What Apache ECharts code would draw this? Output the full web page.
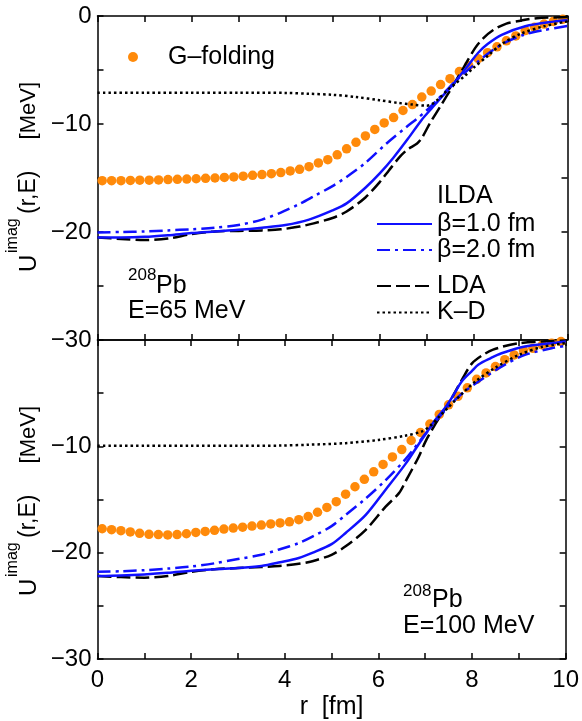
<!DOCTYPE html>
<html><head><meta charset="utf-8">
<script src="https://cdn.jsdelivr.net/npm/echarts@6/dist/echarts.min.js"></script>
<style>html,body{margin:0;padding:0;background:#fff}#c{width:582px;height:721px}</style>
</head><body><div id="c"></div><script>
// ---------- data ----------
const xTicks = [0, 2, 4, 6, 8, 10];
const yTicks = [0, -10, -20, -30];

const rDots = [0.1,0.3,0.5,0.7,0.9,1.1,1.3,1.5,1.7,1.9,2.1,2.3,2.5,2.7,2.9,3.1,3.3,3.5,3.7,3.9,
  4.1,4.3,4.5,4.7,4.9,5.1,5.3,5.5,5.7,5.9,6.1,6.3,6.5,6.7,6.9,7.1,7.3,7.5,7.7,7.9,
  8.1,8.3,8.5,8.7,8.9,9.1,9.3,9.5,9.7,9.9];

// E = 65 MeV (top)
const topG = [-15.25,-15.25,-15.25,-15.22,-15.2,-15.2,-15.18,-15.15,-15.12,-15.1,-15.07,-15.03,-15.0,-14.95,-14.9,-14.83,-14.75,-14.68,-14.6,-14.5,
  -14.35,-14.2,-13.95,-13.6,-13.3,-12.85,-12.3,-11.7,-11.1,-10.5,-9.9,-9.4,-8.75,-8.2,-7.5,-6.95,-6.35,-5.8,-5.15,-4.6,
  -3.95,-3.4,-2.85,-2.3,-1.85,-1.35,-1.05,-0.75,-0.5,-0.3];
const topB1r = [0,0.5,1,1.5,2,2.5,3,3.5,4,4.5,5,5.3,5.7,6.0,6.3,6.6,6.9,7.1,7.3,7.5,7.7,7.9,8.1,8.3,8.6,9.1,9.7,10];
const topB1v = [-20.5,-20.5,-20.45,-20.3,-20.1,-19.95,-19.8,-19.6,-19.35,-18.85,-18.0,-17.35,-15.9,-14.6,-13.1,-11.4,-9.6,-8.6,-7.6,-6.65,-5.6,-4.5,-3.4,-2.6,-1.75,-0.95,-0.52,-0.4];
const topB2r = [0,0.5,1,1.5,2,2.5,3,3.5,3.9,4.3,4.6,5.0,5.3,5.7,6.15,6.58,6.8,7.0,7.2,7.4,7.6,7.8,8.1,8.4,8.7,9.1,9.5,10];
const topB2v = [-20.05,-20.0,-19.95,-19.85,-19.75,-19.6,-19.35,-18.85,-18.2,-17.4,-16.7,-15.75,-14.9,-13.6,-11.8,-10.25,-9.5,-8.75,-7.9,-7.0,-6.1,-5.3,-4.2,-3.2,-2.4,-1.7,-1.3,-0.93];
const topLDAr = [0,0.5,1,1.5,2,2.5,3,3.5,3.9,4.3,4.6,5.0,5.3,5.7,6.0,6.2,6.44,6.6,6.8,6.9,7.07,7.29,7.57,7.78,8.03,8.2,8.42,8.7,9.0,9.35,10];
const topLDAv = [-20.5,-20.65,-20.75,-20.6,-20.2,-19.95,-19.9,-19.85,-19.75,-19.5,-19.2,-18.7,-18.1,-16.8,-15.4,-14.3,-13.0,-12.35,-11.8,-11.3,-9.95,-8.4,-6.4,-4.85,-3.0,-2.1,-1.3,-0.7,-0.43,-0.2,-0.1];
const topKDr = [0,1,2,3,4,4.5,5,5.5,6,6.4,6.7,7.0,7.1,7.25,7.45,7.6,7.8,8.0,8.3,8.6,9.0,9.5,10];
const topKDv = [-7.1,-7.1,-7.1,-7.1,-7.12,-7.2,-7.3,-7.5,-7.8,-8.05,-8.2,-8.3,-8.2,-7.7,-6.85,-6.3,-5.6,-4.8,-3.7,-2.6,-1.65,-0.95,-0.5];

// E = 100 MeV (bottom)
const botG = [-17.75,-17.84,-17.93,-18.05,-18.18,-18.27,-18.3,-18.33,-18.3,-18.22,-18.1,-18.0,-17.9,-17.78,-17.69,-17.6,-17.5,-17.4,-17.3,-17.2,
  -17.1,-16.9,-16.6,-16.2,-15.75,-15.2,-14.5,-13.8,-13.1,-12.4,-11.7,-11.0,-10.3,-9.45,-8.7,-7.9,-7.0,-6.1,-5.3,-4.5,
  -3.7,-3.1,-2.5,-1.85,-1.4,-1.0,-0.78,-0.47,-0.3,-0.15];
const botB1r = [0,0.5,1,1.5,2,2.5,3,3.5,3.9,4.3,4.6,5.0,5.3,5.73,6.15,6.58,6.86,7.07,7.2,7.43,7.6,7.78,8.0,8.14,8.4,8.63,9.13,9.7,10];
const botB1v = [-22.2,-22.15,-22.05,-21.9,-21.7,-21.55,-21.45,-21.25,-20.9,-20.5,-20.0,-19.2,-18.15,-16.45,-14.1,-11.65,-9.8,-8.45,-7.6,-6.35,-5.2,-3.9,-2.9,-2.3,-1.7,-1.25,-0.62,-0.3,-0.15];
const botB2r = [0,0.5,1,1.5,2,2.5,3,3.5,3.88,4.3,4.59,5.0,5.3,5.73,6.15,6.58,7.0,7.29,7.57,7.85,8.14,8.63,9.13,9.7,10];
const botB2v = [-21.8,-21.75,-21.65,-21.5,-21.3,-21.0,-20.6,-20.2,-19.7,-19.1,-18.5,-17.5,-16.45,-14.9,-13.2,-11.2,-8.85,-7.3,-5.9,-4.8,-3.9,-2.5,-1.4,-0.78,-0.55];
const botLDAr = [0,0.5,1,1.5,2,2.5,3,3.5,3.88,4.3,4.59,5.0,5.3,5.73,6.15,6.44,6.58,6.86,7.0,7.15,7.3,7.45,7.6,7.8,8.0,8.2,8.45,9.0,10];
const botLDAv = [-22.2,-22.3,-22.35,-22.2,-21.8,-21.55,-21.45,-21.35,-21.25,-21.05,-20.8,-20.2,-19.4,-17.85,-15.7,-14.4,-13.3,-11.0,-9.6,-8.4,-7.3,-6.3,-5.2,-3.6,-2.2,-1.5,-0.9,-0.3,-0.05];
const botKDr = [0,1,2,3,3.9,4.5,5.3,6.0,6.57,6.93,7.1,7.3,7.5,7.8,8.1,8.5,9.0,9.5,10];
const botKDv = [-9.95,-9.95,-9.95,-9.95,-9.93,-9.85,-9.7,-9.4,-9.0,-8.6,-8.1,-7.2,-6.3,-5.0,-3.8,-2.6,-1.4,-0.65,-0.3];

const names = ['G\u2013folding', '\u03b2=1.0 fm', '\u03b2=2.0 fm', 'LDA', 'K\u2013D'];

// ---------- styling ----------
const FONT = 'Liberation Sans, Arial, Helvetica, sans-serif';
const BLUE = '#1010ff', ORANGE = '#ff8a0a', BLACK = '#000';
const pairs = (r, v) => r.map((x, i) => [x, v[i]]);
const minus = v => (v < 0 ? '\u2212' + Math.abs(v) : String(v));

function xAx(grid, pos, labels) {
  return {
    type: 'value', gridIndex: grid, position: pos, min: 0, max: 10, interval: 1,
    axisLine: { show: true, onZero: false, lineStyle: { color: BLACK, width: 1.5 } },
    axisTick: { show: true, inside: true, length: 6, lineStyle: { color: BLACK, width: 1.5 } },
    splitLine: { show: false },
    axisLabel: labels ? {
      show: true, margin: 9, color: BLACK, fontSize: 24, fontFamily: FONT,
      showMinLabel: true, showMaxLabel: true,
      formatter: v => (xTicks.indexOf(v) >= 0 ? String(v) : '')
    } : { show: false },
    name: labels ? 'r  [fm]' : '', nameLocation: 'middle', nameGap: 36,
    nameTextStyle: { color: BLACK, fontSize: 25, fontFamily: FONT }
  };
}
function yAx(grid, pos, labels, hideZero) {
  return {
    type: 'value', gridIndex: grid, position: pos, min: -30, max: 0, interval: 5,
    axisLine: { show: true, onZero: false, lineStyle: { color: BLACK, width: 1.5 } },
    axisTick: { show: true, inside: true, length: 6, lineStyle: { color: BLACK, width: 1.5 } },
    splitLine: { show: false },
    axisLabel: labels ? {
      show: true, margin: 6, color: BLACK, fontSize: 24, fontFamily: FONT,
      showMinLabel: true, showMaxLabel: true,
      formatter: v => (yTicks.indexOf(v) >= 0 && !(hideZero && v === 0) ? minus(v) : '')
    } : { show: false }
  };
}
function lineS(name, r, v, xi, yi, color, type, width, z) {
  return {
    type: 'line', name, xAxisIndex: xi, yAxisIndex: yi, data: pairs(r, v),
    symbol: 'none', smooth: 0.3, z,
    lineStyle: { color, width, type, cap: 'butt', join: 'round' }, itemStyle: { color },
    emphasis: { disabled: true }, silent: true
  };
}
function dotS(vals, xi, yi) {
  return {
    type: 'scatter', name: names[0], xAxisIndex: xi, yAxisIndex: yi,
    data: pairs(rDots, vals), symbol: 'circle', symbolSize: 9.5, z: 1,
    itemStyle: { color: ORANGE, opacity: 1 }, emphasis: { disabled: true }, silent: true
  };
}
function yName(cy) {
  const t = (text, x, y, size, align) => ({
    type: 'text', x, y, silent: true,
    style: { text, fill: BLACK, fontSize: size, fontFamily: FONT, align: align || 'left', verticalAlign: 'middle' }
  });
  return {
    type: 'group', x: 30, y: cy, rotation: Math.PI / 2, children: [
      t('U', -95, -1, 24), t('imag', -76, -17, 16), t('(r,E)', -37, -1, 23), t('[MeV]', 95, -1, 22, 'right')
    ]
  };
}
function txt(text, x, y, size) {
  return { type: 'text', x, y, silent: true,
    style: { text, fill: BLACK, fontSize: size, fontFamily: FONT, align: 'left', verticalAlign: 'middle' } };
}

const legendText = { color: BLACK, fontSize: 25, fontFamily: FONT, lineHeight: 26 };
const hideSym = { opacity: 0 };

const option = {
  animation: false,
  backgroundColor: '#fff',
  grid: [
    { left: 97.5, top: 16, width: 470, height: 324, containLabel: false },
    { left: 97.5, top: 340, width: 470, height: 322, containLabel: false }
  ],
  xAxis: [xAx(0, 'bottom', false), xAx(0, 'top', false), xAx(1, 'bottom', true), xAx(1, 'top', false)],
  yAxis: [yAx(0, 'left', true, false), yAx(0, 'right', false), yAx(1, 'left', true, true), yAx(1, 'right', false)],
  legend: [
    { data: [{ name: names[0], icon: 'circle' }], left: 128, top: 44, padding: 0, itemWidth: 60, itemHeight: 10,
      selectedMode: false, textStyle: legendText },
    { data: [names[1], names[2]], orient: 'vertical', left: 376, top: 211, padding: 0, itemWidth: 55, itemHeight: 14,
      itemGap: 0, selectedMode: false, textStyle: legendText, itemStyle: hideSym },
    { data: [names[3], names[4]], orient: 'vertical', left: 376, top: 273, padding: 0, itemWidth: 55, itemHeight: 14,
      itemGap: 0.5, selectedMode: false, textStyle: legendText, itemStyle: hideSym }
  ],
  series: [
    dotS(topG, 0, 0),
    lineS(names[1], topB1r, topB1v, 0, 0, BLUE, 'solid', 2.5, 5),
    lineS(names[2], topB2r, topB2v, 0, 0, BLUE, [13, 5, 3, 5], 2.5, 4),
    lineS(names[3], topLDAr, topLDAv, 0, 0, BLACK, [14, 5], 2.5, 3),
    lineS(names[4], topKDr, topKDv, 0, 0, BLACK, [2.5, 3], 2.5, 6),
    dotS(botG, 2, 2),
    lineS(names[1], botB1r, botB1v, 2, 2, BLUE, 'solid', 2.5, 5),
    lineS(names[2], botB2r, botB2v, 2, 2, BLUE, [13, 5, 3, 5], 2.5, 4),
    lineS(names[3], botLDAr, botLDAv, 2, 2, BLACK, [14, 5], 2.5, 3),
    lineS(names[4], botKDr, botKDv, 2, 2, BLACK, [2.5, 3], 2.5, 6)
  ],
  graphic: [
    yName(177), yName(501),
    txt('ILDA', 437, 196, 25),
    txt('208', 128, 275, 17), txt('Pb', 156, 286, 25), txt('E=65 MeV', 128, 311, 25),
    txt('208', 403, 591, 17), txt('Pb', 432, 600, 25), txt('E=100 MeV', 403, 626, 25)
  ]
};
const chart = echarts.init(document.getElementById('c'), null, { renderer: 'canvas' });
chart.setOption(option);
</script></body></html>
